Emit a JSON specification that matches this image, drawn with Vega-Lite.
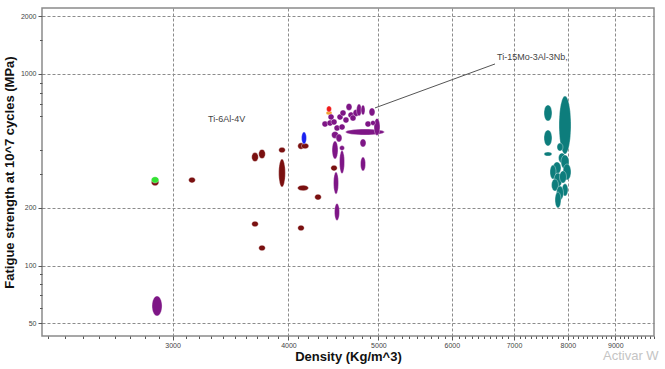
{
  "$schema": "https://vega.github.io/schema/vega-lite/v6.json",
  "width": 612,
  "height": 328,
  "autosize": "none",
  "padding": {"left": 42, "top": 8, "right": 11, "bottom": 33},
  "background": "white",
  "config": {
    "font": "Liberation Sans",
    "view": {"stroke": "#8a8a8a", "strokeWidth": 1.5}
  },
  "datasets": {
    "ranges": [
      {"grp": "purple", "dmin": 2851, "dmax": 2923, "smin": 54.6, "smax": 69.4},
      {"grp": "maroon", "dmin": 2846, "dmax": 2900, "smin": 261, "smax": 285.5},
      {"grp": "green", "dmin": 2846, "dmax": 2900, "smin": 269.8, "smax": 291},
      {"grp": "maroon", "dmin": 3122, "dmax": 3175, "smin": 270, "smax": 289},
      {"grp": "maroon", "dmin": 3651, "dmax": 3712, "smin": 349, "smax": 389},
      {"grp": "maroon", "dmin": 3715, "dmax": 3777, "smin": 362, "smax": 404},
      {"grp": "maroon", "dmin": 3904, "dmax": 3969, "smin": 388, "smax": 414},
      {"grp": "maroon", "dmin": 3904, "dmax": 3969, "smin": 257, "smax": 360},
      {"grp": "maroon", "dmin": 4093, "dmax": 4160, "smin": 405, "smax": 437},
      {"grp": "maroon", "dmin": 4130, "dmax": 4207, "smin": 407, "smax": 435},
      {"grp": "blue", "dmin": 4132, "dmax": 4183, "smin": 431, "smax": 498},
      {"grp": "maroon", "dmin": 4091, "dmax": 4204, "smin": 246, "smax": 262.5},
      {"grp": "maroon", "dmin": 4269, "dmax": 4340, "smin": 220, "smax": 236},
      {"grp": "maroon", "dmin": 3651, "dmax": 3712, "smin": 159.5, "smax": 170.5},
      {"grp": "maroon", "dmin": 4093, "dmax": 4160, "smin": 152, "smax": 162.5},
      {"grp": "maroon", "dmin": 3715, "dmax": 3777, "smin": 119.5, "smax": 127.8},
      {"grp": "orange", "dmin": 4391, "dmax": 4457, "smin": 611, "smax": 641},
      {"grp": "red", "dmin": 4396, "dmax": 4451, "smin": 633, "smax": 681},
      {"grp": "purple", "dmin": 4347, "dmax": 4413, "smin": 529, "smax": 568},
      {"grp": "purple", "dmin": 4413, "dmax": 4479, "smin": 575, "smax": 618},
      {"grp": "purple", "dmin": 4402, "dmax": 4468, "smin": 535, "smax": 575},
      {"grp": "purple", "dmin": 4446, "dmax": 4512, "smin": 542, "smax": 582},
      {"grp": "purple", "dmin": 4512, "dmax": 4580, "smin": 575, "smax": 618},
      {"grp": "purple", "dmin": 4546, "dmax": 4614, "smin": 604, "smax": 649},
      {"grp": "purple", "dmin": 4614, "dmax": 4683, "smin": 645, "smax": 702},
      {"grp": "purple", "dmin": 4637, "dmax": 4707, "smin": 589, "smax": 633},
      {"grp": "purple", "dmin": 4695, "dmax": 4765, "smin": 600, "smax": 653},
      {"grp": "purple", "dmin": 4660, "dmax": 4730, "smin": 568, "smax": 611},
      {"grp": "purple", "dmin": 4580, "dmax": 4648, "smin": 555, "smax": 596},
      {"grp": "purple", "dmin": 4736, "dmax": 4795, "smin": 604, "smax": 697},
      {"grp": "purple", "dmin": 4789, "dmax": 4837, "smin": 611, "smax": 689},
      {"grp": "purple", "dmin": 4885, "dmax": 4958, "smin": 604, "smax": 665},
      {"grp": "purple", "dmin": 4837, "dmax": 4909, "smin": 529, "smax": 568},
      {"grp": "purple", "dmin": 4479, "dmax": 4546, "smin": 504, "smax": 542},
      {"grp": "purple", "dmin": 4535, "dmax": 4603, "smin": 510, "smax": 548},
      {"grp": "purple", "dmin": 4451, "dmax": 4529, "smin": 461, "smax": 501},
      {"grp": "purple", "dmin": 4501, "dmax": 4568, "smin": 442, "smax": 486},
      {"grp": "purple", "dmin": 4457, "dmax": 4523, "smin": 360, "smax": 447},
      {"grp": "purple", "dmin": 4540, "dmax": 4597, "smin": 399, "smax": 423},
      {"grp": "purple", "dmin": 4608, "dmax": 5076, "smin": 480, "smax": 516},
      {"grp": "purple", "dmin": 4946, "dmax": 5020, "smin": 478, "smax": 586},
      {"grp": "purple", "dmin": 4903, "dmax": 4964, "smin": 539, "smax": 572},
      {"grp": "purple", "dmin": 4777, "dmax": 4849, "smin": 416, "smax": 458},
      {"grp": "purple", "dmin": 4783, "dmax": 4843, "smin": 312, "smax": 369},
      {"grp": "purple", "dmin": 4540, "dmax": 4597, "smin": 302, "smax": 399},
      {"grp": "maroon", "dmin": 4443, "dmax": 4515, "smin": 312, "smax": 334},
      {"grp": "purple", "dmin": 4473, "dmax": 4529, "smin": 236, "smax": 308},
      {"grp": "purple", "dmin": 4484, "dmax": 4540, "smin": 172, "smax": 211},
      {"grp": "teal", "dmin": 7541, "dmax": 7692, "smin": 568, "smax": 689},
      {"grp": "teal", "dmin": 7541, "dmax": 7692, "smin": 421, "smax": 510},
      {"grp": "teal", "dmin": 7541, "dmax": 7692, "smin": 373, "smax": 392},
      {"grp": "teal", "dmin": 7827, "dmax": 8064, "smin": 382, "smax": 768},
      {"grp": "teal", "dmin": 7788, "dmax": 7905, "smin": 396, "smax": 436},
      {"grp": "teal", "dmin": 7817, "dmax": 7954, "smin": 343, "smax": 387},
      {"grp": "teal", "dmin": 7866, "dmax": 8024, "smin": 319, "smax": 378},
      {"grp": "teal", "dmin": 7711, "dmax": 7866, "smin": 301, "smax": 347},
      {"grp": "teal", "dmin": 7654, "dmax": 7769, "smin": 283, "smax": 335},
      {"grp": "teal", "dmin": 7905, "dmax": 8064, "smin": 280, "smax": 339},
      {"grp": "teal", "dmin": 7730, "dmax": 7886, "smin": 257, "smax": 304},
      {"grp": "teal", "dmin": 7837, "dmax": 7974, "smin": 270, "smax": 312},
      {"grp": "teal", "dmin": 7683, "dmax": 7817, "smin": 245, "smax": 283},
      {"grp": "teal", "dmin": 7886, "dmax": 8004, "smin": 231, "smax": 267},
      {"grp": "teal", "dmin": 7779, "dmax": 7915, "smin": 220, "smax": 260},
      {"grp": "teal", "dmin": 7750, "dmax": 7866, "smin": 200, "smax": 242}
    ],
    "leader": [
      {"d1": 4958, "s1": 665, "d2": 6678, "s2": 1128}
    ],
    "labels": [
      {"label": "Ti-15Mo-3Al-3Nb,", "d": 6711, "s": 1227},
      {"label": "Ti-6Al-4V", "d": 3276, "s": 582}
    ],
    "watermark": [
      {"label": "Activar W", "d": 8730, "s": 33.6}
    ]
  },
  "layer": [
    {
      "data": {"name": "ranges"},
      "mark": {
        "type": "point",
        "filled": true,
        "opacity": 1,
        "size": 4,
        "stroke": "white",
        "strokeWidth": 0.45,
        "strokeOpacity": 0.8,
        "shape": {"expr": "'M0,' + (-(scale('y',datum.smin)-scale('y',datum.smax))/2) + 'A' + ((scale('x',datum.dmax)-scale('x',datum.dmin))/2) + ',' + ((scale('y',datum.smin)-scale('y',datum.smax))/2) + ',0,1,0,' + (scale('x',datum.dmax)-scale('x',datum.dmin)) + ',' + (-(scale('y',datum.smin)-scale('y',datum.smax))/2) + 'A' + ((scale('x',datum.dmax)-scale('x',datum.dmin))/2) + ',' + ((scale('y',datum.smin)-scale('y',datum.smax))/2) + ',0,1,0,0,' + (-(scale('y',datum.smin)-scale('y',datum.smax))/2) + 'Z'"}
      },
      "encoding": {
        "x": {
          "field": "dmin", "type": "quantitative",
          "scale": {"type": "log", "domain": [2170, 9908], "nice": false, "zero": false},
          "axis": {
            "title": "Density (Kg/m^3)",
            "titleFont": "Liberation Sans",
            "titleFontSize": 13,
            "titleFontWeight": "bold",
            "titleColor": "#111",
            "titlePadding": 2,
            "orient": "bottom",
            "domain": false,
            "values": [2200,2300,2400,2500,2600,2700,2800,2900,3000,3100,3200,3300,3400,3500,3600,3700,3800,3900,4000,4100,4200,4300,4400,4500,4600,4700,4800,4900,5000,5100,5200,5300,5400,5500,5600,5700,5800,5900,6000,6100,6200,6300,6400,6500,6600,6700,6800,6900,7000,7100,7200,7300,7400,7500,7600,7700,7800,7900,8000,8100,8200,8300,8400,8500,8600,8700,8800,8900,9000,9100,9200,9300,9400,9500,9600,9700,9800,9900],
            "labelExpr": "indexof([3000,4000,5000,6000,7000,8000,9000], datum.value) >= 0 ? format(datum.value, 'd') : ''",
            "labelOverlap": false,
            "labelBound": false,
            "labelFontSize": 7,
            "labelColor": "#444",
            "labelPadding": 1,
            "tickColor": "#555",
            "tickSize": {"condition": {"test": "indexof([3000,4000,5000,6000,7000,8000,9000], datum.value) >= 0", "value": 4}, "value": 2.5},
            "grid": true,
            "gridColor": "#8c8c8c",
            "gridDash": [3, 2],
            "gridWidth": 1,
            "gridOpacity": {"condition": {"test": "indexof([3000,4000,5000,6000,7000,8000,9000], datum.value) >= 0", "value": 1}, "value": 0}
          }
        },
        "y": {
          "field": "smin", "type": "quantitative",
          "scale": {"type": "log", "domain": [42.9, 2210], "nice": false, "zero": false},
          "axis": {
            "title": "Fatigue strength at 10^7 cycles (MPa)",
            "titleFont": "Liberation Sans",
            "titleFontSize": 13,
            "titleFontWeight": "bold",
            "titleColor": "#111",
            "titlePadding": 4,
            "orient": "left",
            "domain": false,
            "values": [50,60,70,80,90,100,200,300,400,600,700,800,900,1000,1500,2000],
            "labelExpr": "indexof([50,100,200,500,1000,2000], datum.value) >= 0 ? format(datum.value, 'd') : ''",
            "labelOverlap": false,
            "labelBound": false,
            "labelFontSize": 7,
            "labelColor": "#444",
            "labelPadding": 2,
            "tickColor": "#555",
            "tickSize": {"condition": {"test": "indexof([50,100,200,500,1000,2000], datum.value) >= 0", "value": 4}, "value": 2.5},
            "grid": true,
            "gridColor": "#8c8c8c",
            "gridDash": [3, 2],
            "gridWidth": 1,
            "gridOpacity": {"condition": {"test": "indexof([50,100,200,500,1000,2000], datum.value) >= 0", "value": 1}, "value": 0}
          }
        },
        "color": {
          "field": "grp", "type": "nominal",
          "scale": {
            "domain": ["maroon", "purple", "green", "blue", "red", "orange", "teal"],
            "range": ["#7a1010", "#7e1686", "#33e233", "#1a22f0", "#f01a1a", "#f0a030", "#0d7d7c"]
          },
          "legend": null
        }
      }
    },
    {
      "data": {"name": "leader"},
      "mark": {"type": "rule", "color": "#555", "strokeWidth": 1},
      "encoding": {
        "x": {"field": "d1", "type": "quantitative"},
        "y": {"field": "s1", "type": "quantitative"},
        "x2": {"field": "d2"},
        "y2": {"field": "s2"}
      }
    },
    {
      "data": {"name": "labels"},
      "mark": {"type": "text", "align": "left", "baseline": "middle", "fontSize": 9, "color": "#444", "font": "Liberation Sans"},
      "encoding": {
        "x": {"field": "d", "type": "quantitative"},
        "y": {"field": "s", "type": "quantitative"},
        "text": {"field": "label"}
      }
    },
    {
      "data": {"name": "watermark"},
      "mark": {"type": "text", "align": "left", "baseline": "middle", "fontSize": 13, "color": "#c4c4c4", "font": "Liberation Sans", "clip": false},
      "encoding": {
        "x": {"field": "d", "type": "quantitative"},
        "y": {"field": "s", "type": "quantitative"},
        "text": {"field": "label"}
      }
    }
  ]
}
